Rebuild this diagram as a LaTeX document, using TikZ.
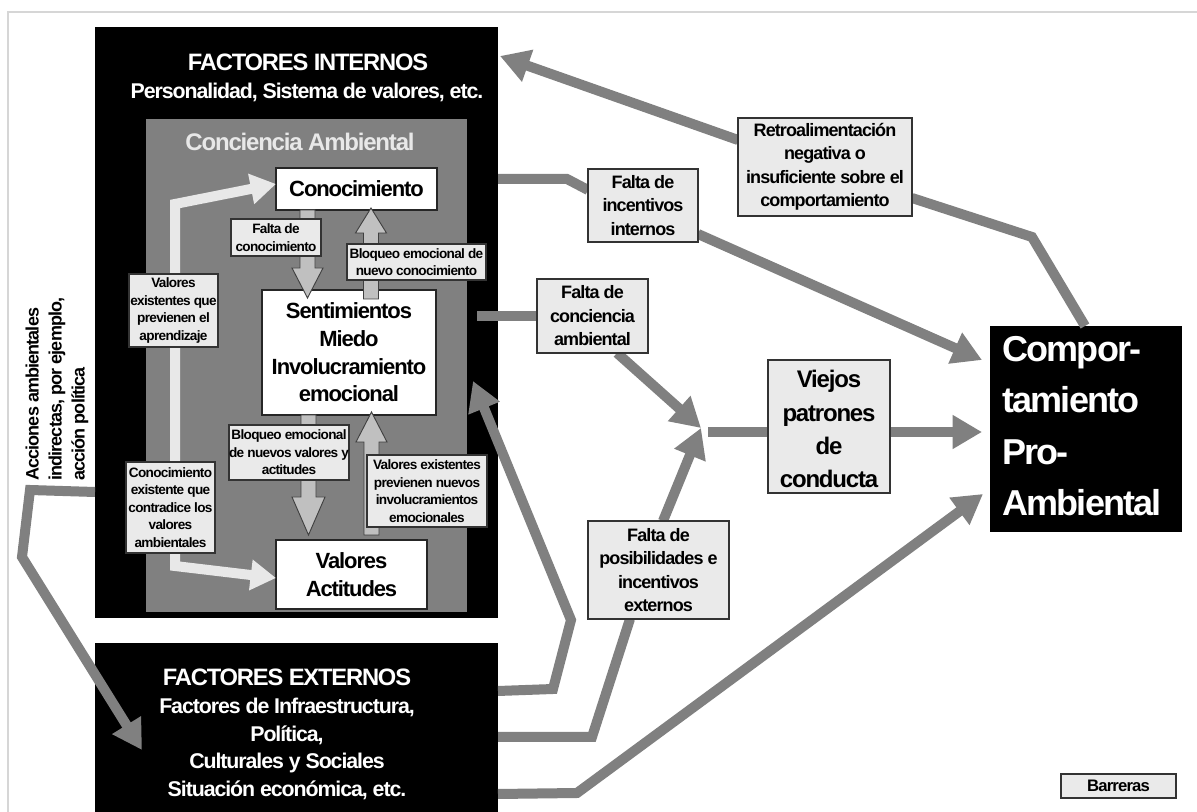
\documentclass[tikz,border=0pt]{standalone}
\usepackage{fontspec}
\setmainfont{Liberation Sans}[LetterSpace=-5]
\usetikzlibrary{arrows.meta}
\definecolor{arrowgray}{HTML}{808080}
\definecolor{labelfill}{HTML}{EAEAEA}
\definecolor{lightarrow}{HTML}{E8E8E8}
\definecolor{blockfill}{HTML}{C0C0C0}
\definecolor{framegray}{HTML}{D6D6D6}
\pgfdeclarelayer{back}
\pgfdeclarelayer{front}
\pgfsetlayers{back,main,front}
\newcommand\fsz[2]{\fontsize{#1}{#2}\selectfont}
% name, style, x1, y1, x2, y2, text
\newcommand\pxnode[7]{%
  \node[#2, minimum width={(#5-#3)*0.75pt}, minimum height={(#6-#4)*0.75pt}]
    (#1) at ({(#3+#5)/2},{(#4+#6)/2}) {#7};}
\tikzset{
  blackbox/.style={fill=black, draw=none, inner sep=0pt, outer sep=0pt},
  greybox/.style={fill=arrowgray, draw=none, inner sep=0pt, outer sep=0pt},
  whitebox/.style={fill=white, draw=black!85, line width=0.8pt, inner sep=0pt, outer sep=0pt,
    align=center, font=\bfseries\fsz{16.5}{20.8}},
  lbl/.style={fill=labelfill, draw=black!80, line width=0.8pt, inner sep=0pt, outer sep=0pt,
    align=center, font=\bfseries\fsz{10.2}{13.2}},
  lblbig/.style={lbl, font=\bfseries\fsz{13.5}{17.6}},
  wtext/.style={text=white, inner sep=0pt, align=center, font=\bfseries},
  gline/.style={draw=arrowgray, line width=7.5pt, line join=miter},
  garrow/.style={gline, -{Triangle[length=22pt,width=24pt]}},
  larrow/.style={draw=lightarrow, line width=7.5pt, line join=miter,
    {Triangle[length=19pt,width=22pt]}-{Triangle[length=19pt,width=22pt]}},
  blockarrow/.style={fill=blockfill, draw=black!75, line width=0.7pt, line join=miter},
}
\begin{document}
\begin{tikzpicture}[x=0.75pt, y=-0.75pt]
\useasboundingbox (0,0) rectangle (1197,812);
\begin{pgfonlayer}{back}
  \fill[white] (0,0) rectangle (1197,812);
  \draw[framegray, line width=1.5pt] (8,812) -- (8,12) -- (1197,12);
  % internal factors
  \pxnode{intern}{blackbox}{95}{27}{498}{618}{}
  \node[wtext, font=\bfseries\fsz{17.8}{21}] (interntitle) at (308,62) {FACTORES INTERNOS};
  \node[wtext, font=\bfseries\fsz{16}{19}] (internsub) at (307,92) {Personalidad, Sistema de valores, etc.};
  \pxnode{conc}{greybox}{146}{119}{467}{612}{}
  \node[wtext, text=lightarrow, font=\bfseries\fsz{18}{21}] (conctitle) at (300,142) {Conciencia Ambiental};
  \pxnode{conoc}{whitebox}{276}{168}{437}{210}{Conocimiento}
  \pxnode{sent}{whitebox}{262}{290}{436}{415}{Sentimientos\\Miedo\\Involucramiento\\emocional}
  \pxnode{valores}{whitebox}{276}{540}{427}{609}{Valores\\Actitudes}
  % external factors
  \pxnode{extern}{blackbox}{95}{643}{498}{812}{}
  \node[wtext, font=\bfseries\fsz{17.8}{21}] (externtitle) at (287,677) {FACTORES EXTERNOS};
  \node[wtext, font=\bfseries\fsz{16}{20.8}] (externsub) at (287,749) {Factores de Infraestructura,\\Política,\\Culturales y Sociales\\Situación económica, etc.};
  % behaviour
  \pxnode{comp}{blackbox}{990}{326}{1182}{532}{}
  \node[wtext, align=left, anchor=west, font=\bfseries\fsz{27}{38.5}] (comptext) at (1002,426) {Compor-\\tamiento\\Pro-\\Ambiental};
  % rotated text
  \node[rotate=90, anchor=west, align=left, inner sep=0pt, font=\bfseries\fsz{13.5}{17.3}] (acciones) at (57,481) {Acciones ambientales\\indirectas, por ejemplo,\\acción política};
\end{pgfonlayer}

\begin{pgfonlayer}{front}
  \pxnode{lfaltacon}{lbl}{231}{219}{321}{256}{Falta de\\conocimiento}
  \pxnode{lbloqA}{lbl}{347}{244}{486}{280}{Bloqueo emocional de\\nuevo conocimiento}
  \pxnode{lbloqB}{lbl}{229}{425}{349}{480}{Bloqueo emocional\\de nuevos valores y\\actitudes}
  \pxnode{lvalprev}{lbl}{367}{455}{487}{527}{Valores existentes\\previenen nuevos\\involucramientos\\emocionales}
  \pxnode{lvalexist}{lbl}{129}{274}{218}{347}{Valores\\existentes que\\previenen el\\aprendizaje}
  \pxnode{lconoexist}{lbl}{126}{462}{215}{553}{Conocimiento\\existente que\\contradice los\\valores\\ambientales}
  \pxnode{lincint}{lblbig}{588}{169}{698}{242}{Falta de\\incentivos\\internos}
  \pxnode{lretro}{lblbig}{738}{118}{912}{216}{Retroalimentación\\negativa o\\insuficiente sobre el\\comportamiento}
  \pxnode{lconcamb}{lblbig}{537}{279}{648}{353}{Falta de\\conciencia\\ambiental}
  \pxnode{lposib}{lblbig}{588}{521}{729}{619}{Falta de\\posibilidades e\\incentivos\\externos}
  \pxnode{viejos}{lbl}{768}{360}{890}{493}{}
  \node[inner sep=0pt, align=center, font=\bfseries\fsz{18}{24.8}] (viejostext) at (829,429) {Viejos\\patrones\\de\\conducta};
  \pxnode{barreras}{lbl}{1061}{774}{1176}{798}{}
  \node[inner sep=0pt, font=\bfseries\fsz{12.5}{14}] (barrerastext) at (1118.5,786) {Barreras};
\end{pgfonlayer}

% named free ends / junctions
\coordinate (merge) at (701,428);
\coordinate (mergeout) at (708,432);
\coordinate (tipInc) at (982,360);
\coordinate (tipViejos) at (982,432);
\coordinate (tipExt) at (983,494);
\coordinate (tipRetro) at (500,56);
\coordinate (tipSent) at (473,381);
\coordinate (tipExtern) at (142,750);
\coordinate (startConc) at (477,316);

% grey connectors
\draw[gline] (comp.north -| 1085,0) -- (1032,237) -- (lretro.east |- 0,198);
\draw[garrow] (lretro.west |- 0,140) -- (tipRetro);
\draw[gline] (intern.east |- 0,179) -- (567,179) -- (lincint.west |- 0,190);
\draw[garrow] (lincint.east |- 0,234) -- (tipInc);
\draw[gline] (startConc) -- (lconcamb.west |- 0,316);
\draw[garrow] (lconcamb.south -| 617,0) -- (merge);
\draw[garrow] (lposib.north -| 663,0) -- (merge);
\draw[gline] (mergeout) -- (viejos.west |- 0,432);
\draw[garrow] (viejos.east |- 0,432) -- (tipViejos);
\draw[garrow] (extern.east |- 0,691) -- (553,689) -- (571,620) -- (tipSent);
\draw[gline] (extern.east |- 0,737) -- (592,737) -- (lposib.south -| 630,0);
\draw[garrow] (extern.east |- 0,794) -- (577,793) -- (tipExt);
\draw[garrow] (intern.west |- 0,492) -- (30,490) -- (22,557) -- (tipExtern);

% light double arrow inside awareness box
\draw[larrow] (valores.west |- 0,578) -- (175,566) -- (175,204) -- (conoc.west |- 0,184);

% block arrows between inner boxes
\filldraw[blockarrow] (300,210) -- (315,210) -- (315,268) -- (323,268) -- (307.5,298) -- (292,268) -- (300,268) -- cycle;
\filldraw[blockarrow] (363.5,299) -- (378.5,299) -- (378.5,233) -- (386.5,233) -- (371,208) -- (355.5,233) -- (363.5,233) -- cycle;
\filldraw[blockarrow] (301,415) -- (316,415) -- (316,497) -- (325,497) -- (308.5,535) -- (292,497) -- (301,497) -- cycle;
\filldraw[blockarrow] (364,535) -- (379,535) -- (379,442) -- (387,442) -- (371.5,412) -- (356,442) -- (364,442) -- cycle;
\end{tikzpicture}
\end{document}
